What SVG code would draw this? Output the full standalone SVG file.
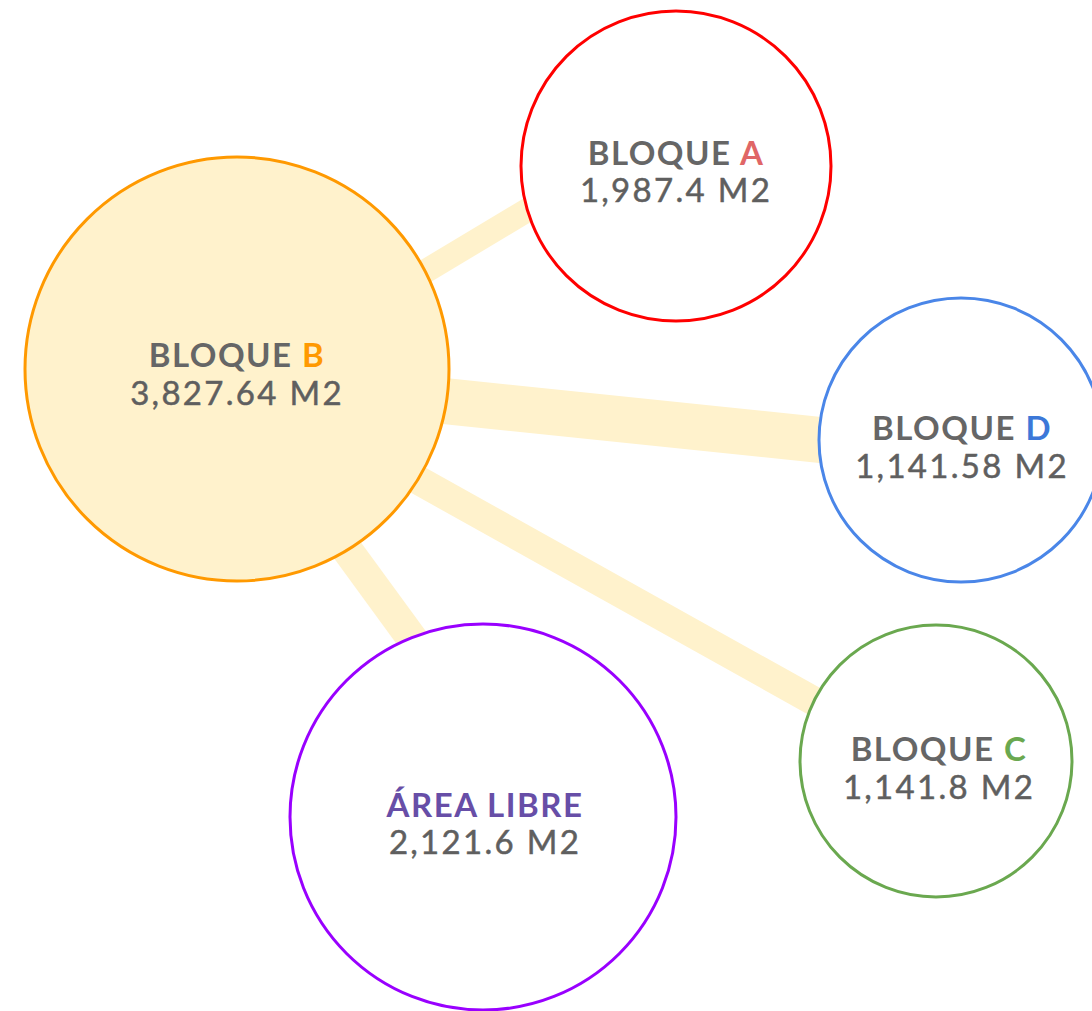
<svg xmlns="http://www.w3.org/2000/svg" width="1092" height="1011" viewBox="0 0 1092 1011">
<style>
.conn{stroke:#FFF2CC;fill:none;stroke-linecap:butt}
.node{stroke-width:3}
.t{font-family:Lato,"Noto Sans",sans-serif;font-weight:700;font-size:33px;fill:#666666;text-anchor:middle;letter-spacing:1.5px}
.v{font-family:Lato,"Noto Sans",sans-serif;font-weight:400;font-size:33px;fill:#5f5f5f;stroke:#5f5f5f;stroke-width:0.5px;text-anchor:middle;letter-spacing:2.3px}
.purple{fill:#674EA7}
</style>
<rect width="1092" height="1011" fill="#ffffff"/>
<g id="connectors">
<line class="conn" x1="300" y1="346.5" x2="620" y2="154.5" stroke-width="24"/>
<line class="conn" x1="300" y1="386" x2="900" y2="448.3" stroke-width="46"/>
<line class="conn" x1="300" y1="414.2" x2="880" y2="738" stroke-width="29"/>
<line class="conn" x1="300" y1="485.3" x2="440" y2="677" stroke-width="31"/>
</g>
<g id="bloque-b">
<circle class="node" cx="237" cy="369" r="212" fill="#FFF2CC" stroke="#FF9900"/>
<text class="t" x="237" y="367">BLOQUE <tspan style="fill:#FF9900">B</tspan></text>
<text class="v" x="237" y="405">3,827.64 M2</text>
</g>
<g id="bloque-a">
<circle class="node" cx="676" cy="166" r="155" fill="#ffffff" stroke="#FF0000"/>
<text class="t" x="676" y="165">BLOQUE <tspan style="fill:#E06666">A</tspan></text>
<text class="v" x="676" y="202">1,987.4 M2</text>
</g>
<g id="bloque-d">
<circle class="node" cx="961" cy="440" r="142" fill="#ffffff" stroke="#4A86E8"/>
<text class="t" x="962" y="440">BLOQUE <tspan style="fill:#3C78D8">D</tspan></text>
<text class="v" x="962" y="478">1,141.58 M2</text>
</g>
<g id="bloque-c">
<circle class="node" cx="936" cy="761" r="136" fill="#ffffff" stroke="#6AA84F"/>
<text class="t" x="939" y="761">BLOQUE <tspan style="fill:#6AA84F">C</tspan></text>
<text class="v" x="939" y="799">1,141.8 M2</text>
</g>
<g id="area-libre">
<circle class="node" cx="483" cy="817" r="193" fill="#ffffff" stroke="#9900FF"/>
<text class="t purple" x="485" y="817">ÁREA LIBRE</text>
<text class="v" x="485" y="854">2,121.6 M2</text>
</g>
</svg>
